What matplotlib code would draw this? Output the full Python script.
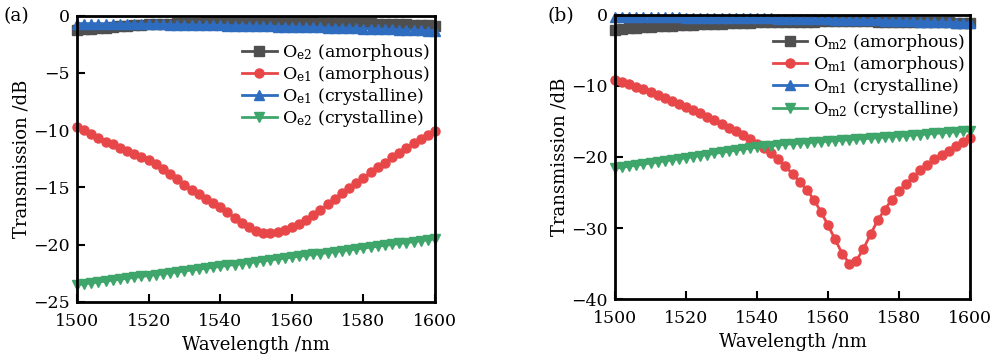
import numpy as np
import matplotlib
matplotlib.use("Agg")
import matplotlib.pyplot as plt

plt.rcParams["font.family"] = ["DejaVu Serif"]
plt.rcParams["mathtext.fontset"] = "dejavuserif"

wavelength = np.arange(1500, 1601, 2)

# Panel (a): electric-mode transmission
oe2_amorphous = [
    -1.25, -1.20, -1.15, -1.10, -1.05, -1.00, -0.95, -0.90, -0.85, -0.80,
    -0.78, -0.75, -0.72, -0.70, -0.68, -0.66, -0.64, -0.62, -0.60, -0.60,
    -0.58, -0.58, -0.57, -0.57, -0.57, -0.57, -0.57, -0.57, -0.58, -0.58,
    -0.58, -0.59, -0.60, -0.60, -0.61, -0.62, -0.63, -0.64, -0.65, -0.66,
    -0.67, -0.68, -0.70, -0.71, -0.73, -0.75, -0.77, -0.79, -0.82, -0.85,
    -0.88]
oe1_amorphous = [
    -9.70, -10.00, -10.35, -10.70, -11.00, -11.25, -11.55, -11.85, -12.10, -12.35,
    -12.65, -13.00, -13.40, -13.85, -14.30, -14.80, -15.20, -15.60, -16.00, -16.35,
    -16.75, -17.15, -17.65, -18.10, -18.50, -18.85, -18.95, -18.95, -18.86, -18.72,
    -18.48, -18.22, -17.87, -17.41, -16.97, -16.48, -16.01, -15.52, -15.08, -14.59,
    -14.15, -13.69, -13.25, -12.84, -12.38, -11.97, -11.53, -11.15, -10.78, -10.43,
    -10.08]
oe1_crystalline = [
    -0.70, -0.70, -0.71, -0.71, -0.72, -0.72, -0.73, -0.73, -0.74, -0.75,
    -0.76, -0.77, -0.78, -0.79, -0.80, -0.81, -0.82, -0.83, -0.84, -0.85,
    -0.86, -0.87, -0.88, -0.89, -0.91, -0.92, -0.93, -0.94, -0.96, -0.97,
    -0.98, -1.00, -1.01, -1.03, -1.04, -1.06, -1.07, -1.09, -1.10, -1.12,
    -1.14, -1.15, -1.17, -1.19, -1.21, -1.23, -1.25, -1.27, -1.29, -1.31,
    -1.33]
oe2_crystalline = [
    -23.50, -23.42, -23.34, -23.26, -23.18, -23.10, -23.02, -22.94, -22.86, -22.78,
    -22.70, -22.62, -22.54, -22.46, -22.38, -22.30, -22.22, -22.14, -22.06, -21.98,
    -21.90, -21.82, -21.74, -21.66, -21.58, -21.50, -21.42, -21.34, -21.26, -21.18,
    -21.10, -21.02, -20.94, -20.86, -20.78, -20.70, -20.62, -20.54, -20.46, -20.38,
    -20.30, -20.22, -20.14, -20.06, -19.98, -19.90, -19.82, -19.74, -19.66, -19.58,
    -19.50]

# Panel (b): magnetic-mode transmission
om2_amorphous = [
    -2.10, -2.00, -1.90, -1.82, -1.75, -1.68, -1.62, -1.56, -1.50, -1.45,
    -1.40, -1.36, -1.32, -1.28, -1.24, -1.20, -1.17, -1.14, -1.11, -1.08,
    -1.05, -1.03, -1.01, -0.99, -0.97, -0.95, -0.94, -0.93, -0.92, -0.91,
    -0.90, -0.90, -0.90, -0.90, -0.90, -0.90, -0.91, -0.92, -0.93, -0.94,
    -0.95, -0.96, -0.97, -0.98, -0.99, -1.00, -1.02, -1.04, -1.06, -1.08,
    -1.10]
om1_amorphous = [
    -9.10, -9.40, -9.75, -10.10, -10.45, -10.85, -11.25, -11.65, -12.05, -12.50,
    -12.95, -13.40, -13.85, -14.35, -14.85, -15.35, -15.85, -16.40, -16.95, -17.50,
    -18.10, -18.80, -19.50, -20.30, -21.30, -22.40, -23.50, -24.60, -26.00, -27.70,
    -29.60, -31.60, -33.60, -35.00, -34.60, -32.90, -30.90, -28.90, -27.40, -26.00,
    -24.80, -23.80, -22.80, -21.90, -21.10, -20.30, -19.70, -19.10, -18.50, -17.90,
    -17.30]
om1_crystalline = [
    -0.30, -0.30, -0.31, -0.31, -0.32, -0.32, -0.33, -0.33, -0.34, -0.35,
    -0.36, -0.37, -0.38, -0.39, -0.40, -0.41, -0.42, -0.43, -0.44, -0.45,
    -0.46, -0.47, -0.49, -0.50, -0.52, -0.53, -0.55, -0.57, -0.59, -0.61,
    -0.63, -0.65, -0.67, -0.69, -0.71, -0.73, -0.75, -0.77, -0.80, -0.82,
    -0.85, -0.87, -0.90, -0.92, -0.95, -0.98, -1.01, -1.04, -1.07, -1.10,
    -1.13]
om2_crystalline = [
    -21.60, -21.45, -21.30, -21.15, -21.00, -20.85, -20.70, -20.55, -20.40, -20.25,
    -20.10, -19.95, -19.80, -19.65, -19.50, -19.35, -19.20, -19.05, -18.90, -18.75,
    -18.60, -18.50, -18.40, -18.30, -18.21, -18.13, -18.05, -17.98, -17.91, -17.84,
    -17.77, -17.70, -17.63, -17.56, -17.49, -17.42, -17.35, -17.28, -17.21, -17.14,
    -17.07, -17.00, -16.92, -16.84, -16.76, -16.68, -16.60, -16.52, -16.44, -16.36,
    -16.28]

GRAY = "#4f4f4f"
RED = "#e8474a"
BLUE = "#2e6cc0"
GREEN = "#3ea66b"

xticks = [1500, 1520, 1540, 1560, 1580, 1600]

fig = plt.figure(figsize=(9.91, 3.62), dpi=100)
ax_a = fig.add_axes([0.0777, 0.166, 0.3613, 0.791])
ax_b = fig.add_axes([0.6206, 0.174, 0.3582, 0.7846])


def draw_panel(ax, series, yticks, ylim, legend_top):
    styles = [(GRAY, "s"), (RED, "o"), (BLUE, "^"), (GREEN, "v")]
    for (values, label), (color, marker) in zip(series, styles):
        ax.plot(wavelength, values, color=color, marker=marker, markersize=6.5,
                linewidth=2, label=label, clip_on=False)
    ax.set_xlim(1500, 1600)
    ax.set_ylim(*ylim)
    ax.set_xticks(xticks)
    ax.set_yticks(yticks)
    ax.tick_params(direction="in", length=6, width=1.5, labelsize=12.5)
    ax.tick_params(axis="x", pad=8)
    ax.tick_params(axis="y", pad=5)
    for sp in ax.spines.values():
        sp.set_linewidth(2)
    ax.set_xlabel("Wavelength /nm", fontsize=13, labelpad=4)
    ax.set_ylabel("Transmission /dB", fontsize=13, labelpad=2)
    ax.legend(loc="upper right", bbox_to_anchor=(1.015, legend_top), frameon=False,
              fontsize=12.5, handlelength=2.0, handletextpad=0.3,
              labelspacing=0.07, borderaxespad=0.2)


draw_panel(ax_a,
           [(oe2_amorphous, r"O$_{\mathregular{e2}}$ (amorphous)"),
            (oe1_amorphous, r"O$_{\mathregular{e1}}$ (amorphous)"),
            (oe1_crystalline, r"O$_{\mathregular{e1}}$ (crystalline)"),
            (oe2_crystalline, r"O$_{\mathregular{e2}}$ (crystalline)")],
           [-25, -20, -15, -10, -5, 0], (-25, 0), 0.945)
draw_panel(ax_b,
           [(om2_amorphous, r"O$_{\mathregular{m2}}$ (amorphous)"),
            (om1_amorphous, r"O$_{\mathregular{m1}}$ (amorphous)"),
            (om1_crystalline, r"O$_{\mathregular{m1}}$ (crystalline)"),
            (om2_crystalline, r"O$_{\mathregular{m2}}$ (crystalline)")],
           [-40, -30, -20, -10, 0], (-40, 0), 0.977)

fig.text(0.004, 0.955, "(a)", fontsize=13.5, va="center", ha="left")
fig.text(0.552, 0.955, "(b)", fontsize=13.5, va="center", ha="left")

fig.savefig("out.png", dpi=100)
